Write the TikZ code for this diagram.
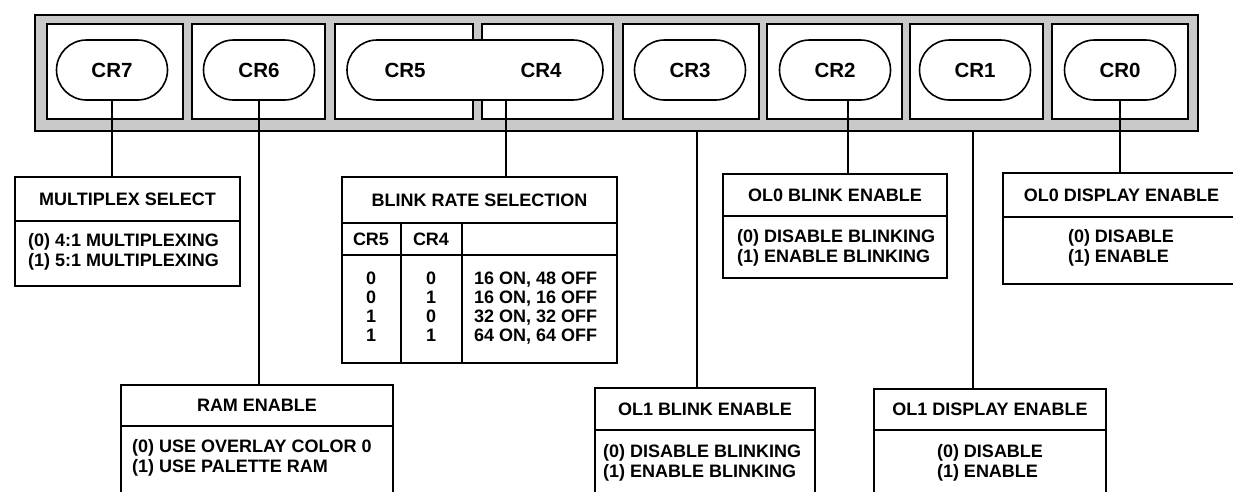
\documentclass[tikz,border=0pt]{standalone}
\usepackage{fontspec}
\setmainfont{Liberation Sans}
\usetikzlibrary{fit,shapes.misc}
\newcommand{\crfont}{\bfseries\fontsize{20.5}{22}\selectfont}
\tikzset{
  barbox/.style={draw,line width=2.2pt,fill=black!21,inner sep=0pt},
  cellbox/.style={draw,line width=1.8pt,fill=white,inner sep=0pt},
  pill/.style={rounded rectangle,draw,line width=1.6pt,fill=white,
    minimum width=111pt,minimum height=60pt,inner sep=0pt,font=\crfont},
  fieldframe/.style={draw,line width=1.6pt,inner sep=0pt},
  link/.style={line width=1.6pt},
  bodytext/.style={align=left,anchor=west,inner sep=0pt}
}
% name, left, top, right, bottom, divider, title
\newcommand{\fieldbox}[7]{%
  \node[fieldframe,fit={(#2,#3) (#4,#5)}] (#1) {};
  \draw[line width=1.6pt] (#2,#6) -- (#4,#6);
  \node (#1-title) at ({(#2+#4)/2},{(#3+#6)/2}) {#7};
}
\begin{document}
\begin{tikzpicture}[x=1pt,y=-1pt,font=\bfseries\fontsize{18}{20}\selectfont]
  \useasboundingbox (0,0) rectangle (1233,491);
  \clip (0,0) rectangle (1233,491);
  % register bar
  \node[barbox,fit={(35,15) (1198,131)}] (bar) {};
  \foreach \l/\r/\n in {47/183/7,192/325/6,335/473/5,482/613/4,623/759/3,767/902/2,910/1043/1,1052/1188/0}
    \node[cellbox,fit={(\l,24) (\r,119)}] (cell\n) {};
  \node[pill] (cr7) at (112,70) {CR7};
  \node[pill] (cr6) at (259,70) {CR6};
  \node[pill,minimum width=256pt] (cr54) at (475,70) {};
  \node[font=\crfont] (cr5) at (405,70) {CR5};
  \node[font=\crfont] (cr4) at (541,70) {CR4};
  \node[pill] (cr3) at (690,70) {CR3};
  \node[pill] (cr2) at (835,70) {CR2};
  \node[pill] (cr1) at (975,70) {CR1};
  \node[pill] (cr0) at (1120,70) {CR0};
  % fields
  \fieldbox{mux}{15}{177}{240}{286}{221}{MULTIPLEX SELECT}
  \node[bodytext] (mux-body) at (28,252) {(0) 4:1 MULTIPLEXING\\(1) 5:1 MULTIPLEXING};
  \fieldbox{ram}{121}{385}{393}{500}{426}{RAM ENABLE}
  \node[bodytext] (ram-body) at (132,458) {(0) USE OVERLAY COLOR 0\\(1) USE PALETTE RAM};
  \fieldbox{blink}{342}{177}{617}{363}{223}{BLINK RATE SELECTION}
  \draw[line width=1.6pt] (342,255) -- (617,255);
  \draw[line width=1.6pt] (401,223) -- (401,363) (462,223) -- (462,363);
  \node (blink-h5) at (371,239) {CR5};
  \node (blink-h4) at (431,239) {CR4};
  \begin{scope}[font=\bfseries\fontsize{18}{19}\selectfont]
    \node[align=center] (blink-c5) at (371,307) {0\\0\\1\\1};
    \node[align=center] (blink-c4) at (431,307) {0\\1\\0\\1};
    \node[bodytext] (blink-rate) at (474,308) {16 ON, 48 OFF\\16 ON, 16 OFF\\32 ON, 32 OFF\\64 ON, 64 OFF};
  \end{scope}
  \fieldbox{ol0blink}{723}{174}{947}{278}{216}{OL0 BLINK ENABLE}
  \node[bodytext] (ol0blink-body) at (737,248) {(0) DISABLE BLINKING\\(1) ENABLE BLINKING};
  \fieldbox{ol0disp}{1003}{173}{1240}{284}{217}{OL0 DISPLAY ENABLE}
  \node[align=left] (ol0disp-body) at (1121,248) {(0) DISABLE\\(1) ENABLE};
  \fieldbox{ol1blink}{595}{388}{815}{500}{430}{OL1 BLINK ENABLE}
  \node[bodytext] (ol1blink-body) at (603,463) {(0) DISABLE BLINKING\\(1) ENABLE BLINKING};
  \fieldbox{ol1disp}{874}{389}{1106}{500}{430}{OL1 DISPLAY ENABLE}
  \node[align=left] (ol1disp-body) at (990,463) {(0) DISABLE\\(1) ENABLE};
  % connectors
  \draw[link] (cr7.south) -- (cr7.south |- mux.north);
  \draw[link] (cr6.south) -- (cr6.south |- ram.north);
  \draw[link] ([xshift=31pt]cr54.south) -- ([xshift=31pt]cr54.south |- blink.north);
  \draw[link] ([xshift=7pt]cr3.south |- bar.south) -- ([xshift=7pt]cr3.south |- ol1blink.north);
  \draw[link] ([xshift=13pt]cr2.south) -- ([xshift=13pt]cr2.south |- ol0blink.north);
  \draw[link] ([xshift=-2pt]cr1.south |- bar.south) -- ([xshift=-2pt]cr1.south |- ol1disp.north);
  \draw[link] (cr0.south) -- (cr0.south |- ol0disp.north);
\end{tikzpicture}
\end{document}
